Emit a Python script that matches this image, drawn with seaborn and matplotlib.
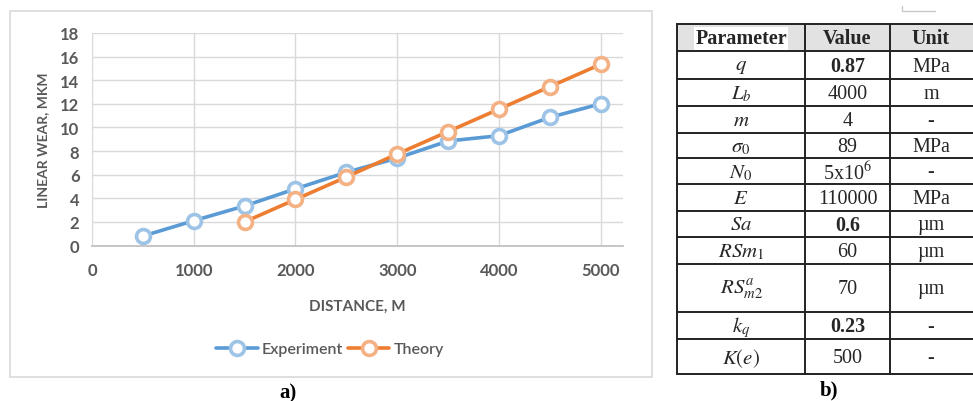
import numpy as np
import pandas as pd
import matplotlib
matplotlib.use("Agg")
import matplotlib.pyplot as plt
import seaborn as sns

# chart data
distance_exp = [500, 1000, 1500, 2000, 2500, 3000, 3500, 4000, 4500, 5000]
wear_exp = [0.8, 2.1, 3.35, 4.8, 6.2, 7.4, 8.85, 9.3, 10.85, 12.0]
distance_th = [1500, 2000, 2500, 3000, 3500, 4000, 4500, 5000]
wear_th = [2.0, 3.9, 5.8, 7.75, 9.65, 11.55, 13.45, 15.35]

# table data
headers = ["Parameter", "Value", "Unit"]
params = [r"$q$", r"$L_b$", r"$m$", r"$\sigma_0$", r"$N_0$", r"$E$", r"$Sa$",
          r"$RSm_1$", r"$RS_{m2}^{a}$", r"$k_q$", r"$K(e)$"]
values = ["0.87", "4000", "4", "89", r"5x10$^6$", "110000", "0.6", "60", "70", "0.23", "500"]
bold_values = ["0.87", "0.6", "0.23"]
units = ["MPa", "m", "-", "MPa", "-", "MPa", "µm", "µm", "µm", "-", "-"]

sns.set_theme(style="white")
plt.rcParams["font.family"] = ["Lato", "DejaVu Sans"]
plt.rcParams["mathtext.fontset"] = "stix"

W, H = 973, 402
fig = plt.figure(figsize=(W / 100, H / 100), dpi=100)

# background axes in pixel coordinates for frame, table, captions
bg = fig.add_axes([0, 0, 1, 1])
bg.set_xlim(0, W)
bg.set_ylim(H, 0)
bg.axis("off")

# chart frame
bg.add_patch(plt.Rectangle((10, 12), 642, 366, fill=False, ec="#d9d9d9", lw=1.2))

# line chart
ax = fig.add_axes([92 / W, 1 - 246.5 / H, (623 - 92) / W, (246.5 - 34) / H])
gray = "#595959"
exp_df = pd.DataFrame({"Distance": distance_exp, "Wear": wear_exp})
th_df = pd.DataFrame({"Distance": distance_th, "Wear": wear_th})
sns.lineplot(data=exp_df, x="Distance", y="Wear", ax=ax, color="#5b9bd5", lw=2.6,
             marker="o", markersize=10, markerfacecolor="white",
             markeredgecolor="#9dc3e6", markeredgewidth=2.6, label="Experiment", zorder=3)
sns.lineplot(data=th_df, x="Distance", y="Wear", ax=ax, color="#ed7d31", lw=2.6,
             marker="o", markersize=10, markerfacecolor="white",
             markeredgecolor="#f4b183", markeredgewidth=2.6, label="Theory", zorder=4)
ax.set_xlim(0, 5220)
ax.set_ylim(0, 18)
ax.set_xticks(range(0, 5001, 1000))
ax.set_yticks(range(0, 19, 2))
ax.grid(True, color="#d9d9d9", lw=1)
for s in ["top", "right", "left"]:
    ax.spines[s].set_visible(False)
ax.spines["bottom"].set_color("#bfbfbf")
ax.tick_params(axis="both", length=0, labelsize=12, labelcolor=gray)
ax.tick_params(axis="y", pad=9)
ax.tick_params(axis="x", pad=12)
for lab in ax.get_xticklabels() + ax.get_yticklabels():
    lab.set_fontweight("bold")
ax.set_xlabel("DISTANCE, M", fontsize=11, fontweight="bold", color=gray, labelpad=15)
ax.set_ylabel("LINEAR WEAR, MKM", fontsize=10, fontweight="bold", color=gray, labelpad=8)
ax.legend(loc="center", bbox_to_anchor=(330 / W, 1 - 350 / H), bbox_transform=fig.transFigure,
          ncol=2, frameon=False, handlelength=2.6, handletextpad=0.25, columnspacing=0.3,
          prop={"family": "Lato", "size": 11.5, "weight": "semibold"}, labelcolor=gray)

bg.text(288, 393, "a)", ha="center", va="center", fontsize=15, fontweight="bold",
        family="Liberation Serif", color="black")
bg.text(829, 390, "b)", ha="center", va="center", fontsize=15, fontweight="bold",
        family="Liberation Serif", color="black")

# small corner mark at top right
bg.plot([902, 902, 935], [7, 12, 12], color="#c8c8c8", lw=1)

# table
row_edges = [25, 52, 80, 107, 134, 159, 185, 212, 238, 265, 313, 340, 375]
col_edges = [677, 805, 890, 975]
bg.add_patch(plt.Rectangle((col_edges[0], row_edges[0]), col_edges[-1] - col_edges[0],
                           row_edges[1] - row_edges[0], color="#e2e2e2", lw=0))
for y in row_edges:
    bg.plot([col_edges[0], col_edges[-1]], [y, y], color="#222222", lw=1.4)
for x in col_edges[:-1]:
    bg.plot([x, x], [row_edges[0], row_edges[-1]], color="#222222", lw=1.4)

centers_x = [(col_edges[i] + col_edges[i + 1]) / 2 for i in range(3)]
centers_x[2] = 931
serif = "Liberation Serif"
hy = (row_edges[0] + row_edges[1]) / 2
for cx, h in zip(centers_x, headers):
    bbox = dict(fc="white", ec="none", pad=1) if h == "Parameter" else None
    bg.text(cx, hy + 1, h, ha="center", va="center", fontsize=14.5, fontweight="bold",
            family=serif, bbox=bbox)
for i in range(len(params)):
    cy = (row_edges[i + 1] + row_edges[i + 2]) / 2 + 1
    bg.text(centers_x[0], cy, params[i], ha="center", va="center", fontsize=15, family=serif)
    bg.text(centers_x[1], cy, values[i], ha="center", va="center", fontsize=14.5, family=serif,
            fontweight="bold" if values[i] in bold_values else "normal")
    bg.text(centers_x[2], cy, units[i], ha="center", va="center", fontsize=14.5, family=serif)

fig.savefig("out.png", dpi=100)
